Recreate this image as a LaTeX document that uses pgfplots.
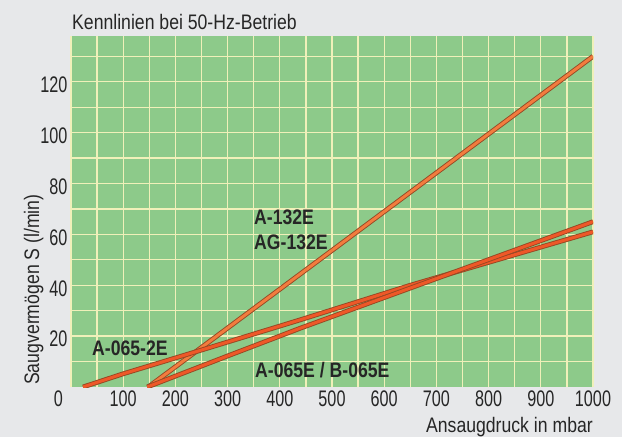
\documentclass[border=0pt]{standalone}
\usepackage{fontspec}
\setmainfont{Liberation Sans}[FakeStretch=0.84]
\newfontfamily\tickfont{Liberation Sans}[FakeStretch=0.72]
\usepackage{pgfplots}
\pgfplotsset{compat=1.18}
\definecolor{bggray}{RGB}{231,232,234}
\definecolor{plotgreen}{RGB}{141,202,138}
\definecolor{gridyellow}{RGB}{240,240,185}
\definecolor{lineorange}{RGB}{242,124,62}
\definecolor{linered}{RGB}{238,88,40}
\definecolor{linedark}{RGB}{150,72,36}
\definecolor{txt}{RGB}{38,38,38}

\pgfplotstableread{
x y
148 0
500 53.7
1000 130
}\steep
\pgfplotstableread{
x y
23 0
100 5.2
235 13.6
439 26.4
650 40
1000 61
}\twoE
\pgfplotstableread{
x y
146 0
300 12.2
439 23.1
650 38.9
1000 65
}\oneE

\begin{document}
\begin{tikzpicture}
\path[use as bounding box, fill=bggray] (-71bp,-50bp) rectangle (551bp,387bp);
\begin{axis}[at={(0,0)}, anchor=south west, scale only axis,
 width=522bp, height=351bp,
 xmin=0, xmax=1000, ymin=0, ymax=138,
 axis line style={draw=none},
 axis background/.style={fill=plotgreen},
 xtick={0,100,...,1000}, minor xtick={50,150,...,950},
 ytick={20,40,...,120}, minor ytick={10,30,...,130},
 xticklabels={\llap{0\hspace{8bp}},100,200,300,400,500,600,700,800,900,1000},
 yticklabels={20,40,60,80,100,120},
 major tick length=0pt, minor tick length=0pt,
 grid=both,
 major grid style={gridyellow, line width=1.3bp},
 minor grid style={gridyellow, line width=1.3bp},
 ticklabel style={font=\tickfont\fontsize{22.5bp}{24bp}\selectfont, text=txt},
 yticklabel style={yshift=-3bp},
 clip=true,
]
\addplot[no marks, linedark, line width=4.8bp] table {\steep};
\addplot[no marks, lineorange, line width=3bp] table {\steep};
\addplot[no marks, linedark, line width=4.8bp] table {\twoE};
\addplot[no marks, linered, line width=3bp] table {\twoE};
\addplot[no marks, linedark, line width=4.8bp] table {\oneE};
\addplot[no marks, linered, line width=3bp] table {\oneE};
\end{axis}
\begin{scope}[every node/.style={inner sep=0pt, text=txt, font=\fontsize{21bp}{25bp}\selectfont}]
\node[anchor=base west] at (1bp,357bp) {Kennlinien bei 50-Hz-Betrieb};
\node[anchor=base east] at (522bp,-45bp) {Ansaugdruck in mbar};
\node[anchor=base west, rotate=90] at (-32bp,2bp) {Saugvermögen S (l/min)};
\node[anchor=base west, font=\fontsize{21bp}{25bp}\selectfont\bfseries] at (183bp,162bp) {A-132E};
\node[anchor=base west, font=\fontsize{21bp}{25bp}\selectfont\bfseries] at (183bp,137bp) {AG-132E};
\node[anchor=base west, font=\fontsize{21bp}{25bp}\selectfont\bfseries] at (21bp,32bp) {A-065-2E};
\node[anchor=base west, font=\fontsize{21bp}{25bp}\selectfont\bfseries] at (184bp,10bp) {A-065E / B-065E};
\end{scope}
\end{tikzpicture}
\end{document}
